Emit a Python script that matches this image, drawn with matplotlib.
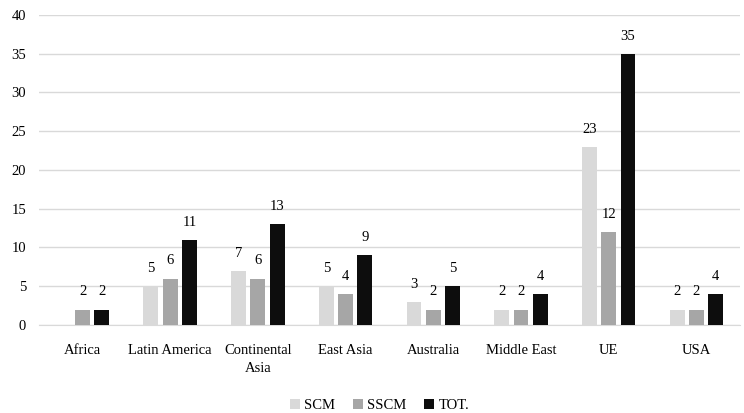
import numpy as np
import matplotlib
matplotlib.use("Agg")
import matplotlib.pyplot as plt

plt.rcParams["font.family"] = ["Liberation Serif", "DejaVu Serif"]

regions = ["Africa", "Latin America", "Continental\nAsia", "East Asia",
           "Australia", "Middle East", "UE", "USA"]
scm = [0, 5, 7, 5, 3, 2, 23, 2]
sscm = [2, 6, 6, 4, 2, 2, 12, 2]
tot = [2, 11, 13, 9, 5, 4, 35, 4]

series = [("SCM", scm, "#D9D9D9"), ("SSCM", sscm, "#A6A6A6"), ("TOT.", tot, "#0D0D0D")]

fig = plt.figure(figsize=(7.44, 4.13), dpi=100)
ax = fig.add_axes([0.052, 0.213, 0.943, 0.751])

x = np.arange(len(regions))
width = 0.17
step = 0.22
for i, (name, vals, color) in enumerate(series):
    bars = ax.bar(x + (i - 1) * step, vals, width=width, color=color, label=name, zorder=3)
    labels = ["" if v == 0 else str(v) for v in vals]
    ax.bar_label(bars, labels=labels, padding=8, fontsize=10.5)

ax.set_ylim(0, 40)
ax.set_yticks(range(0, 41, 5))
ax.set_xlim(-0.5, len(regions) - 0.5)
ax.set_xticks(x)
ax.set_xticklabels(regions, fontsize=10.5, linespacing=1.5)
ax.tick_params(axis="both", length=0, labelsize=10.5)
ax.tick_params(axis="x", pad=14)
ax.tick_params(axis="y", pad=9)
ax.yaxis.grid(True, color="#D9D9D9", linewidth=1, zorder=0)
for side in ["top", "right", "left"]:
    ax.spines[side].set_visible(False)
ax.spines["bottom"].set_color("#D9D9D9")

fig.legend(loc="lower center", bbox_to_anchor=(0.51, -0.03), ncol=3, frameon=False,
           fontsize=10.5, handlelength=0.7, handleheight=0.7, handletextpad=0.3,
           columnspacing=1.2)

fig.savefig("out.png", dpi=100)
